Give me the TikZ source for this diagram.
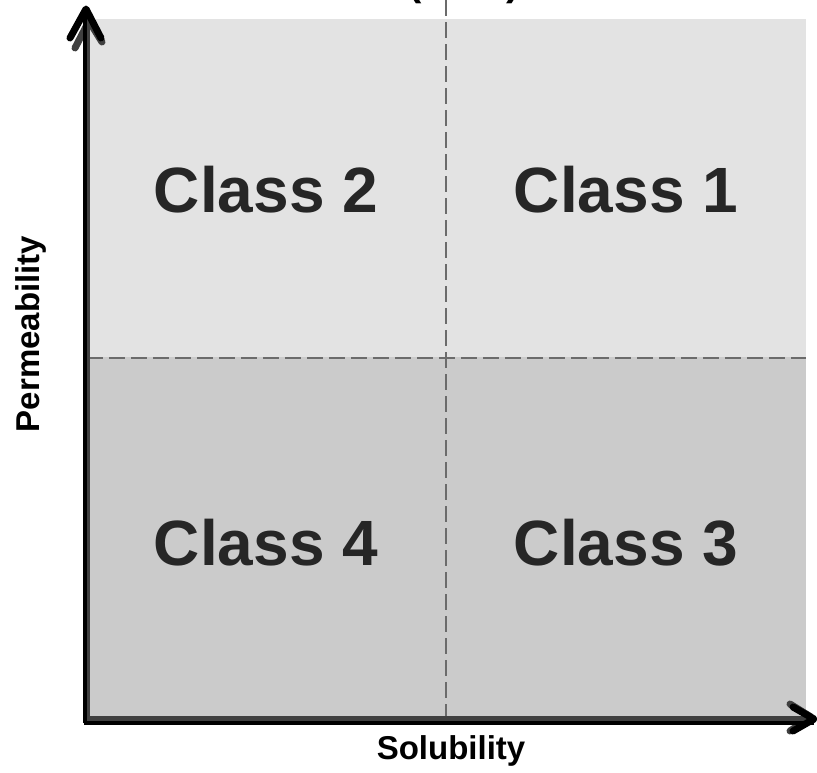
\documentclass[tikz,border=0pt]{standalone}
\usepackage{fontspec}
\setmainfont{Liberation Sans}
\definecolor{topfill}{HTML}{E3E3E3}
\definecolor{botfill}{HTML}{CBCBCB}
\definecolor{dashcol}{HTML}{6B6B6B}
\definecolor{txtcol}{HTML}{262626}
\definecolor{axgray}{HTML}{404040}
\begin{document}
\begin{tikzpicture}[x=1pt,y=-1pt,
  classlbl/.style={font=\bfseries\fontsize{64}{64}\selectfont, text=txtcol, inner sep=0pt},
  axislbl/.style={font=\bfseries\fontsize{33}{33}\selectfont, text=black, inner sep=0pt},
  divider/.style={draw=dashcol, line width=2pt, dash pattern=on 16pt off 6pt},
  axshadow/.style={draw=black, line width=4pt},
  axmain/.style={draw=axgray, line width=4.5pt},
  chev/.style={line width=7pt, line cap=round, line join=round}]
\useasboundingbox (0,0) rectangle (817,772);
% quadrants
\fill[topfill] (87,19) rectangle (806,357);
\fill[botfill] (87,357) rectangle (806,719);
% dividers
\draw[divider] (446,0) -- (446,719);
\draw[divider] (87,357.5) -- (806,357.5);
% gray axes (drawn first)
\draw[axmain] (88,721) -- (88,22);
\draw[axmain] (86,718.5) -- (808,718.5);
\draw[chev, draw=axgray] (75,48) -- (89,21) -- (102,42);
\draw[chev, draw=axgray] (790,704) -- (811,717) -- (790,731);
% black axes
\draw[axshadow] (84.5,723) -- (84.5,10);
\draw[axshadow] (84,722.5) -- (814,722.5);
\draw[chev, draw=black] (70,38) -- (86,9) -- (101,38);
\draw[chev, draw=black] (793,707) -- (814,719) -- (793,731);
% class labels
\node[classlbl] (c2) at (266,190) {Class 2};
\node[classlbl] (c1) at (626,190) {Class 1};
\node[classlbl] (c4) at (266,543) {Class 4};
\node[classlbl] (c3) at (626,543) {Class 3};
% axis labels
\node[axislbl, anchor=base] (sol) at (451,759) {Solubility};
\node[axislbl, anchor=base, rotate=90] (perm) at (39,334) {Permeability};
% title, cut off at the top edge as in the reference
\node[font=\bfseries\fontsize{40}{40}\selectfont, anchor=base, inner sep=0pt] (title) at (464,-5) {(BCS)};
\end{tikzpicture}
\end{document}
